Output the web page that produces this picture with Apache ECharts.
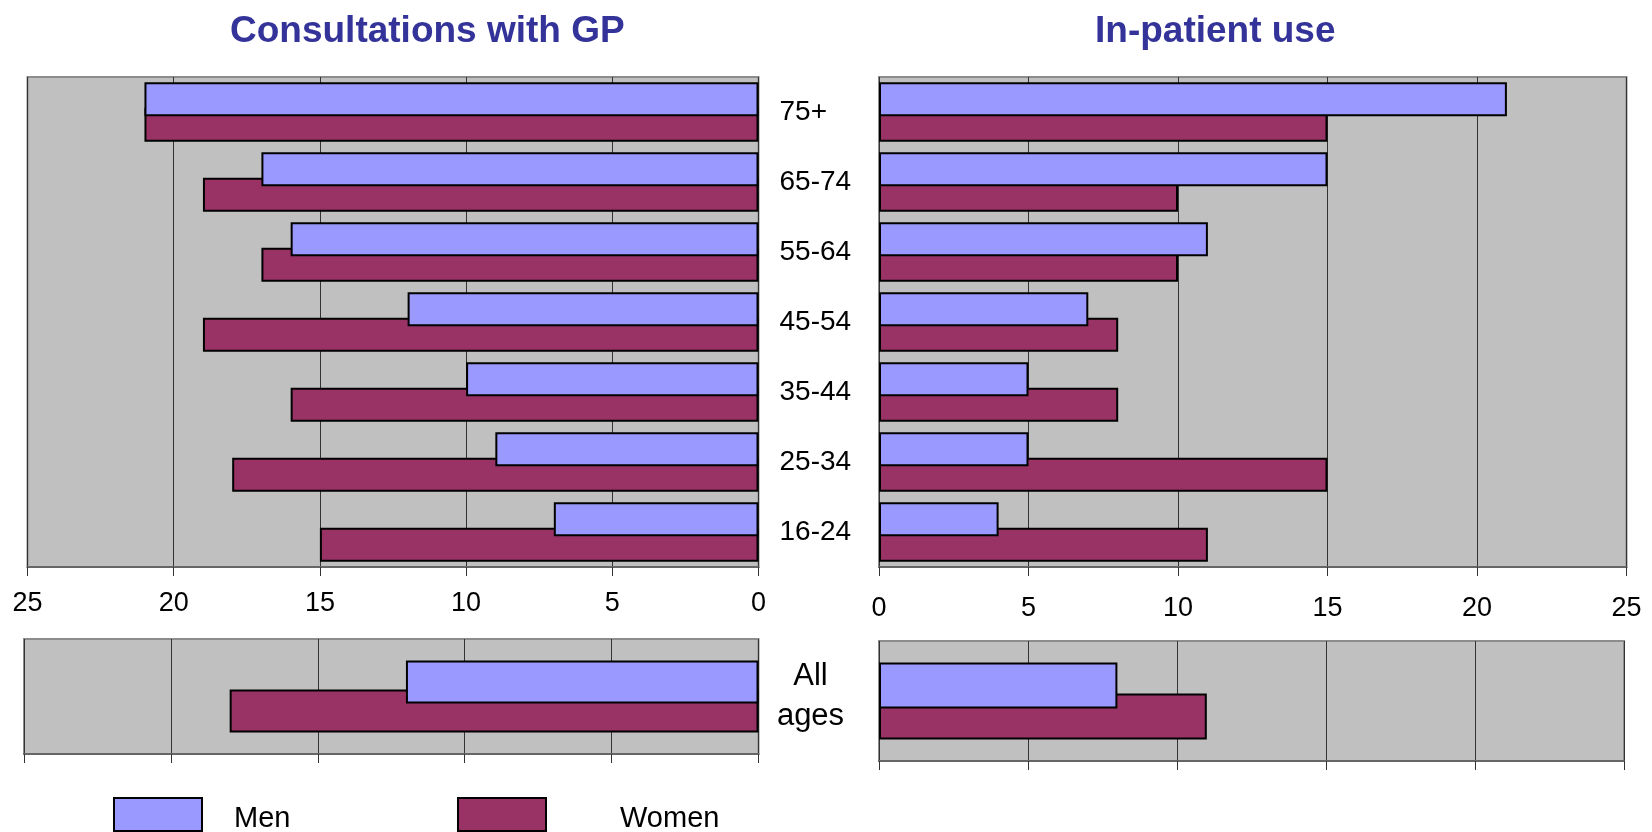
<!DOCTYPE html>
<html>
<head>
<meta charset="utf-8">
<script src="https://cdn.jsdelivr.net/npm/echarts@6/dist/echarts.min.js"></script>
<style>
html,body{margin:0;padding:0;background:#fff;}
#chart{width:1652px;height:832px;}
</style>
</head>
<body>
<div id="chart"></div>
<script>
// ---- Data (bottom-to-top category order) ----
const categories = ['16-24', '25-34', '35-44', '45-54', '55-64', '65-74', '75+'];
const gpMen = [7, 9, 10, 12, 16, 17, 21];
const gpWomen = [15, 18, 16, 19, 17, 19, 21];
const ipMen = [4, 5, 5, 7, 11, 15, 21];
const ipWomen = [11, 15, 8, 8, 10, 10, 15];
const allCategory = ['All\nages'];
const gpAllMen = [12];
const gpAllWomen = [18];
const ipAllMen = [8];
const ipAllWomen = [11];
const axisMin = 0, axisMax = 25, axisStep = 5;
const titles = ['Consultations with GP', 'In-patient use'];
const seriesNames = ['Men', 'Women'];

const FONT = 'Liberation Sans, Arial, sans-serif';
const MEN = '#9999FF', WOMEN = '#993366';

const chart = echarts.init(document.getElementById('chart'), null, {renderer: 'canvas'});

function xAx(gridIndex, inverse, showLabel, margin) {
  return {
    type: 'value', gridIndex, inverse, min: axisMin, max: axisMax, interval: axisStep,
    axisLine: {show: true, lineStyle: {color: '#666', width: 2}},
    axisTick: {show: true, length: 9, lineStyle: {color: '#333', width: 1}},
    axisLabel: {show: showLabel, fontSize: 27, color: '#000', fontFamily: FONT, margin: margin || 8},
    splitLine: {show: true, lineStyle: {color: '#333', width: 1}}
  };
}
function yAx(gridIndex, data, label) {
  return {
    type: 'category', gridIndex, data,
    position: label ? 'right' : 'left',
    axisLine: {show: false}, axisTick: {show: false},
    axisLabel: label ? label : {show: false},
    splitLine: {show: false}
  };
}
function bar(name, data, color, xi, yi, width, z, gap) {
  const s = {
    name, type: 'bar', data, xAxisIndex: xi, yAxisIndex: yi,
    barWidth: width, z,
    itemStyle: {color, borderColor: '#000', borderWidth: 2},
    emphasis: {disabled: true}, animation: false
  };
  if (gap) s.barGap = gap;
  return s;
}

const gridStyle = {show: true, backgroundColor: '#C0C0C0', borderColor: '#8c8c8c', borderWidth: 2};

const legendCommon = {
  padding: 0, itemWidth: 88, itemHeight: 33, icon: 'rect', selectedMode: false,
  itemStyle: {borderColor: '#000', borderWidth: 2},
  formatter: '{t|{name}}'
};

function legendText(leftPad) {
  return {
    fontSize: 29, color: '#000', fontFamily: FONT, padding: [0, 0, 0, leftPad],
    rich: {t: {fontSize: 29, color: '#000', fontFamily: FONT, padding: [9, 0, 0, 0]}}
  };
}

const option = {
  animation: false,
  backgroundColor: '#fff',
  textStyle: {fontFamily: FONT},
  title: [
    {text: titles[0], left: 230, top: 13, padding: 0,
     textStyle: {fontSize: 37, fontWeight: 'bold', color: '#333399', fontFamily: FONT}},
    {text: titles[1], left: 1095, top: 13, padding: 0,
     textStyle: {fontSize: 37, fontWeight: 'bold', color: '#333399', fontFamily: FONT}}
  ],
  legend: [
    Object.assign({data: [seriesNames[0]], left: 113, top: 797, textStyle: legendText(27)}, legendCommon),
    Object.assign({data: [seriesNames[1]], left: 457, top: 797, textStyle: legendText(69)}, legendCommon)
  ],
  grid: [
    Object.assign({left: 27.5, top: 77, width: 731, height: 490}, gridStyle),
    Object.assign({left: 879, top: 77, width: 747.5, height: 490}, gridStyle),
    Object.assign({left: 24, top: 639, width: 734.5, height: 115}, gridStyle),
    Object.assign({left: 879, top: 641, width: 745, height: 120}, gridStyle)
  ],
  xAxis: [
    xAx(0, true, true, 23),
    xAx(1, false, true, 28),
    xAx(2, true, false),
    xAx(3, false, false)
  ],
  yAxis: [
    yAx(0, categories, {show: true, align: 'left', margin: 21, fontSize: 28, color: '#000', fontFamily: FONT}),
    yAx(1, categories, null),
    yAx(2, allCategory, {show: true, align: 'center', margin: 52, fontSize: 31, lineHeight: 40, color: '#000', fontFamily: FONT}),
    yAx(3, allCategory, null)
  ],
  series: [
    bar(seriesNames[0], gpMen, MEN, 0, 0, 34, 4),
    bar(seriesNames[1], gpWomen, WOMEN, 0, 0, 34, 3, '-25%'),
    bar(seriesNames[0], ipMen, MEN, 1, 1, 34, 4),
    bar(seriesNames[1], ipWomen, WOMEN, 1, 1, 34, 3, '-25%'),
    bar(seriesNames[0], gpAllMen, MEN, 2, 2, 43, 4),
    bar(seriesNames[1], gpAllWomen, WOMEN, 2, 2, 43, 3, '-33%'),
    bar(seriesNames[0], ipAllMen, MEN, 3, 3, 46, 4),
    bar(seriesNames[1], ipAllWomen, WOMEN, 3, 3, 46, 3, '-33%')
  ]
};
chart.setOption(option);
</script>
</body>
</html>
